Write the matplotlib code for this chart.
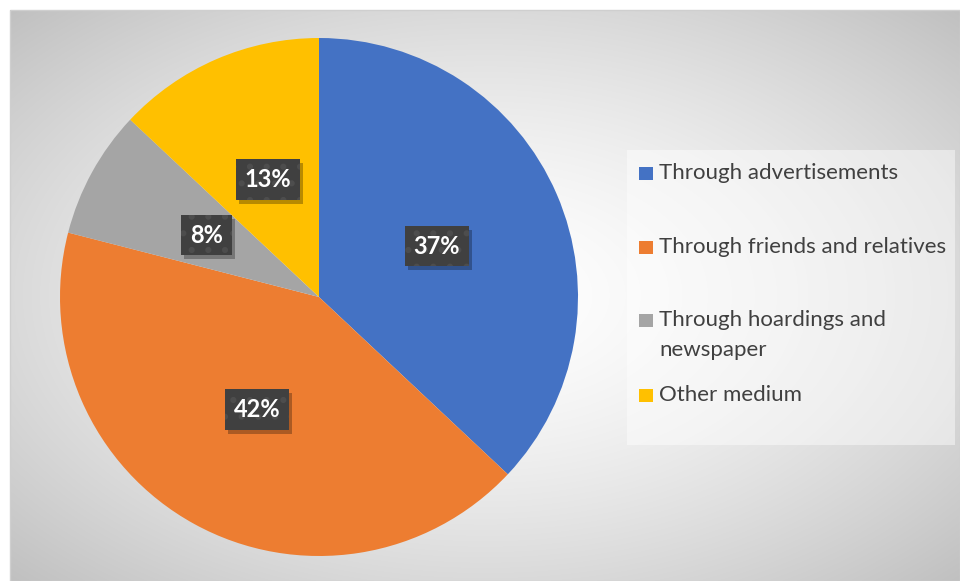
import numpy as np
import matplotlib
matplotlib.use('Agg')
import matplotlib.pyplot as plt
from matplotlib.patches import Rectangle
from matplotlib.transforms import offset_copy

# Dados do gráfico
categorias = ['Through advertisements', 'Through friends and relatives',
              'Through hoardings and\nnewspaper', 'Other medium']
valores = [37, 42, 8, 13]
cores = ['#4472C4', '#ED7D31', '#A5A5A5', '#FFC000']

plt.rcParams['font.family'] = ['Lato', 'DejaVu Sans']
plt.rcParams['hatch.linewidth'] = 2.0

W, H = 960, 581
fig = plt.figure(figsize=(W / 100, H / 100), dpi=100)
fig.patch.set_facecolor('white')

# Fundo com gradiente radial (coordenadas em pixels)
fundo = fig.add_axes([0, 0, 1, 1])
fundo.set_xlim(0, W)
fundo.set_ylim(H, 0)
fundo.axis('off')

x0, y0, x1, y1 = 10, 10, 960, 581
xx, yy = np.meshgrid(np.arange(x0, x1), np.arange(y0, y1))
cx, cy = 485, 295
d = np.sqrt(((xx - cx) / 475) ** 2 + ((yy - cy) / 285) ** 2) / np.sqrt(2)
d = np.clip(d, 0, 1) ** 1.5
tom = (255 - 63 * d) / 255
img = np.dstack([tom, tom, tom])
fundo.imshow(img, extent=[x0, x1, y1, y0], interpolation='bilinear', zorder=0)
fundo.add_patch(Rectangle((x0, y0), x1 - x0, y1 - y0, fill=False,
                          edgecolor='#cfcfcf', linewidth=1, zorder=1))

# Legenda desenhada à mão
fundo.add_patch(Rectangle((627, 150), 328, 295, facecolor='white', alpha=0.45,
                          edgecolor='none', zorder=2))
leg_y = [173, 247, 320, 395]
for cat, cor, y in zip(categorias, cores, leg_y):
    fundo.add_patch(Rectangle((639, y - 6.5), 14, 13, facecolor=cor,
                              edgecolor='none', zorder=3))
    for k, linha in enumerate(cat.split('\n')):
        fundo.text(659, y + 30 * k, linha, fontsize=16, color='#404040',
                   ha='left', va='center', zorder=3)

# Pizza
cx_p, cy_p, r_p = 319, 297, 259
ax = fig.add_axes([(cx_p - r_p) / W, (H - cy_p - r_p) / H, 2 * r_p / W, 2 * r_p / H])

wedges, textos, autotextos = ax.pie(valores, colors=cores, startangle=90,
                                     counterclock=False, radius=1,
                                     autopct='%1.0f%%', pctdistance=0.495,
                                     wedgeprops=dict(linewidth=0))
ax.set_xlim(-1, 1)
ax.set_ylim(-1, 1)
ax.axis('off')

# Rótulos com caixa escura e sombra
sombra_tr = offset_copy(ax.transData, fig=fig, x=3, y=-4, units='dots')
for t in autotextos:
    x, y = t.get_position()
    ax.text(x, y, t.get_text(), transform=sombra_tr, fontsize=17,
            fontweight='bold', color='none', ha='center', va='center',
            bbox=dict(boxstyle='square,pad=0.37', facecolor='black',
                      alpha=0.28, edgecolor='none'), zorder=4)
    t.set_fontsize(17)
    t.set_fontweight('bold')
    t.set_color('white')
    t.set_zorder(6)
    t.set_bbox(dict(boxstyle='square,pad=0.37', facecolor='#404040',
                    edgecolor='#4d4d4d', linewidth=0, hatch='.'))

plt.savefig('out.png', dpi=100)
